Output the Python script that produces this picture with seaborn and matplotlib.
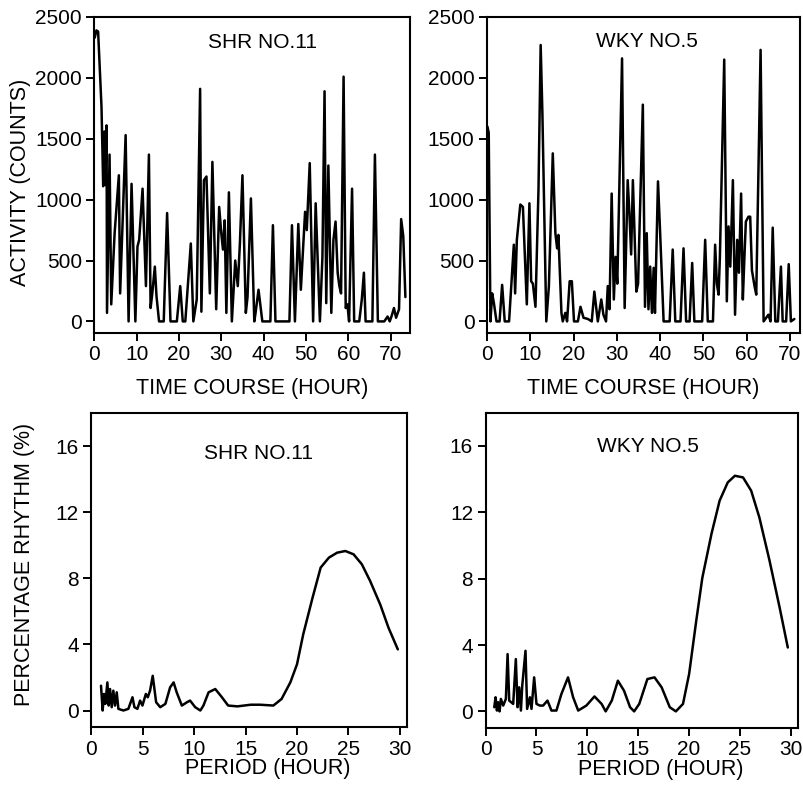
import numpy as np
import pandas as pd
import seaborn as sns
import matplotlib
matplotlib.use("Agg")
import matplotlib.pyplot as plt

# activity counts (hour, counts)
shr_hour = [0.1, 0.5, 0.9, 1.7, 2.1, 2.4, 2.6, 2.9, 3.0, 3.6, 4.0, 4.8, 5.8, 6.1, 7.4, 8.1,
            8.8, 9.7, 10.2, 10.6, 11.4, 12.2, 12.9, 13.3, 13.7, 14.3, 14.7, 15.3, 16.4, 17.2,
            18.0, 19.5, 20.3, 20.9, 21.5, 22.8, 23.4, 24.2, 25.0, 25.3, 25.9, 26.5, 27.3,
            27.9, 28.8, 29.5, 30.0, 30.4, 30.8, 31.2, 31.8, 32.5, 33.3, 33.9, 34.4, 35.0,
            35.8, 36.2, 37.0, 37.8, 38.1, 38.8, 39.7, 41.6, 42.2, 42.8, 46.1, 46.7, 47.4,
            48.2, 48.8, 49.8, 50.2, 50.9, 51.7, 52.3, 53.3, 53.9, 54.4, 54.8, 55.3, 56.0,
            56.5, 57.0, 57.5, 57.9, 58.3, 58.9, 59.4, 59.8, 60.2, 60.9, 61.4, 62.6, 63.2,
            63.7, 64.1, 65.7, 66.3, 67.0, 68.5, 69.3, 69.8, 70.3, 70.8, 71.3, 72.0, 72.5,
            73.0, 73.5]
shr_counts = [2330, 2390, 2380, 1760, 1110, 1560, 1120, 1610, 70, 1370, 140, 725, 1200, 230,
              1530, 0, 1130, 0, 615, 670, 1090, 290, 1370, 110, 230, 450, 205, 0, 0, 890,
              0, 0, 290, 0, 0, 640, 0, 180, 1910, 80, 1160, 1190, 230,
              1310, 100, 940, 725, 590, 830, 70, 1060, 0, 500, 290, 640, 1200,
              70, 200, 1010, 0, 70, 260, 0, 0, 790, 0, 0, 790, 0,
              800, 260, 900, 750, 1300, 0, 970, 0, 530, 1890, 150, 1280, 70,
              670, 820, 400, 290, 230, 2010, 110, 140, 0, 1090, 0, 0, 180,
              400, 0, 0, 1370, 0, 0, 40, 0, 50, 110, 30, 100, 840,
              700, 200]

wky_hour = [0.1, 0.4, 0.8, 1.2, 1.6, 2.2, 2.9, 3.5, 4.1, 5.1, 6.2, 6.5, 6.9, 7.7, 8.3, 9.2,
            9.8, 10.2, 10.6, 11.2, 11.9, 12.4, 12.8, 13.7, 14.3, 15.2, 15.8, 16.2, 16.5,
            17.2, 17.5, 18.1, 18.5, 19.1, 19.6, 20.1, 21.0, 21.6, 22.3, 23.3, 24.2, 24.8,
            25.6, 26.4, 26.9, 27.5, 27.9, 28.3, 28.8, 29.3, 29.7, 30.1, 31.2, 31.8, 32.5,
            32.9, 33.3, 33.7, 34.5, 34.9, 36.0, 36.5, 36.9, 37.3, 37.7, 38.1, 38.5, 38.8,
            39.5, 40.0, 40.8, 42.2, 42.9, 43.5, 44.7, 45.4, 46.0, 46.8, 47.4, 47.9, 49.7,
            50.4, 51.0, 52.2, 52.7, 53.1, 53.5, 53.8, 54.8, 55.4, 55.8, 56.2, 56.8, 57.3,
            57.8, 58.2, 58.7, 59.1, 59.5, 59.8, 60.4, 60.8, 61.2, 61.8, 62.2, 63.2, 63.9,
            64.5, 65.0, 65.5, 66.0, 66.6, 67.2, 67.9, 68.3, 69.1, 69.7, 70.2, 71.0]
wky_counts = [1600, 1550, 0, 230, 150, 0, 0, 300, 0, 0, 630, 230, 670, 960, 940, 140,
              970, 330, 310, 120, 1090, 2270, 1710, 0, 290, 1380, 725, 600, 710,
              70, 0, 70, 0, 330, 330, 0, 0, 120, 30, 20, 0, 245,
              0, 180, 55, 0, 290, 100, 1050, 180, 530, 310, 2160, 110, 1160,
              890, 550, 1160, 245, 310, 1780, 120, 725, 100, 450, 70, 440, 70,
              1150, 725, 0, 0, 590, 0, 0, 600, 0, 0, 480, 0, 0,
              670, 0, 0, 630, 310, 220, 530, 2150, 165, 780, 450, 1160, 55,
              670, 400, 1050, 180, 560, 820, 860, 860, 420, 290, 220, 2230, 0,
              30, 55, 0, 770, 0, 0, 450, 0, 0, 470, 0, 20]

# periodogram (period in hours, percentage rhythm)
shr_period = [0.94, 1.1, 1.23, 1.36, 1.56, 1.69, 1.82, 1.98, 2.14, 2.3, 2.47, 2.63, 3.12,
              3.6, 4.0, 4.19, 4.48, 4.74, 4.97, 5.3, 5.49, 5.71, 5.97, 6.3, 6.7, 7.2, 7.66,
              8.0, 8.3, 8.8, 9.3, 9.6, 10.1, 10.6, 10.9, 11.4, 12.05, 12.7, 13.3, 14.2,
              15.5, 16.4, 17.7, 18.5, 19.35, 20.0, 20.6, 21.5, 22.3, 23.1, 23.9, 24.7,
              25.5, 26.3, 27.1, 28.1, 28.9, 29.8]
shr_rhythm = [1.5, 0.0, 1.0, 0.4, 1.7, 0.3, 1.3, 0.2, 1.2, 0.3, 1.1, 0.1, 0.0,
              0.1, 0.8, 0.2, 0.1, 0.6, 0.3, 1.0, 0.8, 1.2, 2.1, 0.5, 0.2, 0.4, 1.4,
              1.7, 1.1, 0.3, 0.5, 0.6, 0.2, 0.0, 0.3, 1.1, 1.3, 0.8, 0.3, 0.25,
              0.35, 0.35, 0.3, 0.7, 1.7, 2.8, 4.6, 6.8, 8.65, 9.25, 9.55, 9.65,
              9.45, 8.85, 7.85, 6.4, 5.0, 3.7]

wky_period = [0.85, 0.98, 1.11, 1.24, 1.37, 1.5, 1.73, 1.99, 2.16, 2.32, 2.71, 2.97, 3.14,
              3.3, 3.47, 3.6, 3.92, 4.08, 4.35, 4.51, 4.77, 5.0, 5.33, 5.65, 6.08, 6.47,
              6.96, 7.45, 8.1, 8.6, 9.1, 9.9, 10.7, 11.4, 11.8, 12.4, 13.0, 13.6, 14.2,
              14.6, 15.1, 15.9, 16.6, 17.3, 18.1, 18.7, 19.4, 20.0, 20.7, 21.3, 22.2,
              23.0, 23.8, 24.5, 25.3, 26.1, 26.9, 27.9, 28.9, 29.7]
wky_rhythm = [0.25, 0.85, 0.05, 0.55, 0.0, 0.75, 0.35, 0.75, 3.45, 0.65, 0.45, 3.15, 0.25,
              1.45, 0.05, 1.55, 3.65, 0.15, 0.85, 0.15, 2.05, 0.45, 0.35, 0.35, 0.65, 0.05,
              0.05, 1.05, 2.05, 0.85, 0.05, 0.35, 0.9, 0.45, 0.0, 0.65, 1.85, 1.25, 0.25,
              0.0, 0.45, 1.95, 2.05, 1.45, 0.25, 0.0, 0.45, 2.25, 5.45, 8.05, 10.7,
              12.7, 13.8, 14.2, 14.1, 13.3, 11.7, 9.1, 6.25, 3.85]

sns.set_theme(style="ticks", rc={
    "axes.linewidth": 1.5,
    "xtick.major.width": 1.4, "ytick.major.width": 1.4,
    "xtick.major.size": 6, "ytick.major.size": 6,
    "xtick.labelsize": 15, "ytick.labelsize": 15,
    "xtick.color": "black", "ytick.color": "black",
    "axes.edgecolor": "black", "axes.labelcolor": "black", "text.color": "black",
})
plt.rcParams["font.family"] = ["Liberation Sans", "DejaVu Sans"]

fig = plt.figure(figsize=(8.04, 7.87), dpi=100)

ax_tl = fig.add_axes([0.1173, 0.5769, 0.3927, 0.4015])
ax_tr = fig.add_axes([0.6057, 0.5769, 0.3893, 0.4015])
ax_bl = fig.add_axes([0.1136, 0.0762, 0.3927, 0.399])
ax_br = fig.add_axes([0.604, 0.075, 0.3885, 0.4006])

line_kw = dict(color="black", linewidth=1.8, estimator=None, sort=False)

sns.lineplot(x=shr_hour, y=shr_counts, ax=ax_tl, **line_kw)
sns.lineplot(x=wky_hour, y=wky_counts, ax=ax_tr, **line_kw)
sns.lineplot(x=shr_period, y=shr_rhythm, ax=ax_bl, **line_kw)
sns.lineplot(x=wky_period, y=wky_rhythm, ax=ax_br, **line_kw)

for ax, xmax in [(ax_tl, 74.6), (ax_tr, 72.3)]:
    ax.set_xlim(0, xmax)
    ax.set_ylim(-95, 2500)
    ax.set_xticks(range(0, 71, 10))
    ax.set_yticks(range(0, 2501, 500))
    ax.set_xlabel("TIME COURSE (HOUR)", fontsize=15.5)
    ax.xaxis.set_label_coords(0.5, -0.143)

for ax in [ax_bl, ax_br]:
    ax.set_xlim(0, 30.7)
    ax.set_ylim(-1, 18)
    ax.set_xticks(range(0, 31, 5))
    ax.set_yticks(range(0, 17, 4))
    ax.set_xlabel("PERIOD (HOUR)", fontsize=15.5)
    ax.xaxis.set_label_coords(0.56, -0.099)

for ax in [ax_tl, ax_tr, ax_bl, ax_br]:
    ax.tick_params(direction="out", pad=3)
    ax.set_ylabel("")

ax_tl.set_ylabel("ACTIVITY (COUNTS)", fontsize=15.5)
ax_tl.yaxis.set_label_coords(-0.2, 0.478)
ax_bl.set_ylabel("PERCENTAGE RHYTHM (%)", fontsize=15.5)
ax_bl.yaxis.set_label_coords(-0.18, 0.519)

title_kw = dict(ha="center", va="center", fontsize=15)
ax_tl.text(0.534, 0.918, "SHR NO.11", transform=ax_tl.transAxes, **title_kw)
ax_tr.text(0.51, 0.922, "WKY NO.5", transform=ax_tr.transAxes, **title_kw)
ax_bl.text(0.529, 0.872, "SHR NO.11", transform=ax_bl.transAxes, **title_kw)
ax_br.text(0.52, 0.893, "WKY NO.5", transform=ax_br.transAxes, **title_kw)

fig.savefig("out.png", dpi=100, facecolor="white")
